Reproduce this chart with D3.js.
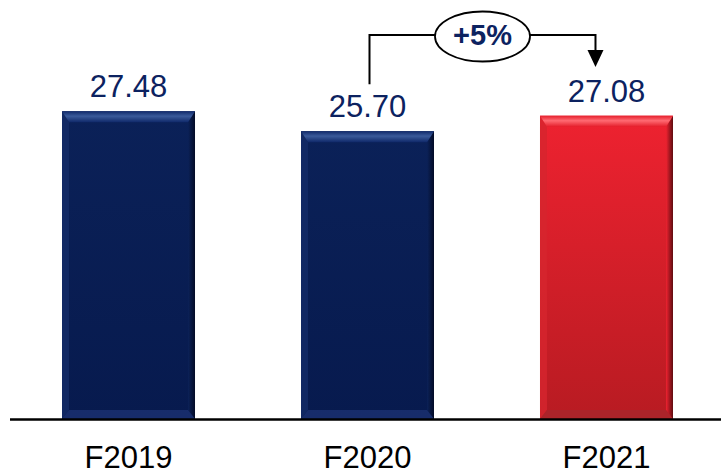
<!DOCTYPE html>
<html>
<head>
<meta charset="utf-8">
<script src="https://cdn.jsdelivr.net/npm/d3@7"></script>
<style>
  html, body { margin: 0; padding: 0; background: #ffffff; }
  svg { display: block; }
</style>
</head>
<body>
<svg id="chart" width="721" height="475"></svg>
<script>
// Fiscal years and values
const categories = ["F2019", "F2020", "F2021"];
const values = [27.48, 25.70, 27.08];
const valueLabels = ["27.48", "25.70", "27.08"];
const growthLabel = "+5%";

const W = 721, H = 475;
const FONT = "Arial, 'Liberation Sans', sans-serif";
const NAVY = "#0c2260";

const svg = d3.select("#chart");

const x = d3.scaleBand()
  .domain(categories)
  .range([9, 726])
  .paddingInner(0.4435)
  .paddingOuter(0.2218);

const y = d3.scaleLinear().domain([0, 30]).range([419, 83]);

// Colour themes per bar: body gradient and bevel shades
const themes = {
  navy: { top: "#0b2158", bottom: "#071a4e", bevTop1: "#3a5a9a", bevTop2: "#10296a",
          left: "#142c68", right: "#030b26", bot: "#1a3070" },
  red:  { top: "#ee2230", bottom: "#b81b22", bevTop1: "#ff6a72", bevTop2: "#e51f2c",
          left: "#d6252e", right: "#5e0c10", bot: "#a8262c" }
};
const barTheme = ["navy", "navy", "red"];

const defs = svg.append("defs");
Object.entries(themes).forEach(([k, t]) => {
  const g = defs.append("linearGradient").attr("id", "body-" + k)
    .attr("x1", 0).attr("y1", 0).attr("x2", 0).attr("y2", 1);
  g.append("stop").attr("offset", "0%").attr("stop-color", t.top);
  g.append("stop").attr("offset", "100%").attr("stop-color", t.bottom);
  const b = defs.append("linearGradient").attr("id", "bevtop-" + k)
    .attr("x1", 0).attr("y1", 0).attr("x2", 0).attr("y2", 1);
  b.append("stop").attr("offset", "0%").attr("stop-color", t.bevTop2);
  b.append("stop").attr("offset", "45%").attr("stop-color", t.bevTop1);
  b.append("stop").attr("offset", "100%").attr("stop-color", t.bevTop2);
  const r = defs.append("linearGradient").attr("id", "bevright-" + k)
    .attr("x1", 0).attr("y1", 0).attr("x2", 1).attr("y2", 0);
  r.append("stop").attr("offset", "0%").attr("stop-color", t.top);
  r.append("stop").attr("offset", "100%").attr("stop-color", t.right);
});

const bars = svg.append("g").selectAll("g.bar")
  .data(categories.map((c, i) => ({ c, v: values[i], label: valueLabels[i], theme: barTheme[i] })))
  .join("g").attr("class", "bar");

const BT = 11, BS = 7, BB = 9;
bars.each(function(d) {
  const g = d3.select(this);
  const x0 = x(d.c), x1 = x0 + x.bandwidth();
  const y0 = y(d.v), y1 = y(0);
  const k = d.theme, t = themes[k];
  g.append("rect").attr("x", x0).attr("y", y0).attr("width", x1 - x0).attr("height", y1 - y0)
    .attr("fill", `url(#body-${k})`);
  const poly = pts => pts.map(p => p.join(",")).join(" ");
  // left bevel
  g.append("polygon").attr("points", poly([[x0, y0], [x0 + BS, y0 + BT], [x0 + BS, y1 - BB], [x0, y1]]))
    .attr("fill", t.left).attr("opacity", 0.8);
  // right bevel
  g.append("polygon").attr("points", poly([[x1, y0], [x1 - BS, y0 + BT], [x1 - BS, y1 - BB], [x1, y1]]))
    .attr("fill", `url(#bevright-${k})`);
  // bottom bevel
  g.append("polygon").attr("points", poly([[x0, y1], [x0 + BS, y1 - BB], [x1 - BS, y1 - BB], [x1, y1]]))
    .attr("fill", t.bot).attr("opacity", 0.85);
  // top bevel
  g.append("polygon").attr("points", poly([[x0, y0], [x1, y0], [x1 - BS, y0 + BT], [x0 + BS, y0 + BT]]))
    .attr("fill", `url(#bevtop-${k})`);
  // value label
  g.append("text").attr("x", (x0 + x1) / 2).attr("y", y0 - 14)
    .attr("text-anchor", "middle").attr("font-family", FONT).attr("font-size", 31)
    .attr("fill", NAVY).text(d.label);
});

// baseline
svg.append("line").attr("x1", 10).attr("x2", W).attr("y1", y(0) + 0.5).attr("y2", y(0) + 0.5)
  .attr("stroke", "#000").attr("stroke-width", 2.5);

// category labels
svg.append("g").selectAll("text").data(categories).join("text")
  .attr("x", d => x(d) + x.bandwidth() / 2).attr("y", 468)
  .attr("text-anchor", "middle").attr("font-family", FONT).attr("font-size", 31)
  .attr("fill", "#000").text(d => d);

// growth connector F2020 -> F2021
const ax0 = x("F2020") + x.bandwidth() / 2 + 2;
const ax1 = x("F2021") + x.bandwidth() / 2 - 11;
const ay = 35;
const ex = 482.5, ey = 36.5, rx = 47.5, ry = 25;
const conn = svg.append("g");
conn.append("path")
  .attr("d", `M${ax0},${y(values[1]) - 47} V${ay} H${ax1} V${52}`)
  .attr("fill", "none").attr("stroke", "#000").attr("stroke-width", 2);
conn.append("polygon")
  .attr("points", `${ax1 - 8},${50} ${ax1 + 8},${50} ${ax1},${67}`)
  .attr("fill", "#000");
conn.append("ellipse").attr("cx", ex).attr("cy", ey).attr("rx", rx).attr("ry", ry)
  .attr("fill", "#fff").attr("stroke", "#000").attr("stroke-width", 1.8);
conn.append("text").attr("x", ex).attr("y", 45).attr("text-anchor", "middle")
  .attr("font-family", FONT).attr("font-size", 29).attr("font-weight", "bold")
  .attr("fill", NAVY).text(growthLabel);
</script>
</body>
</html>
